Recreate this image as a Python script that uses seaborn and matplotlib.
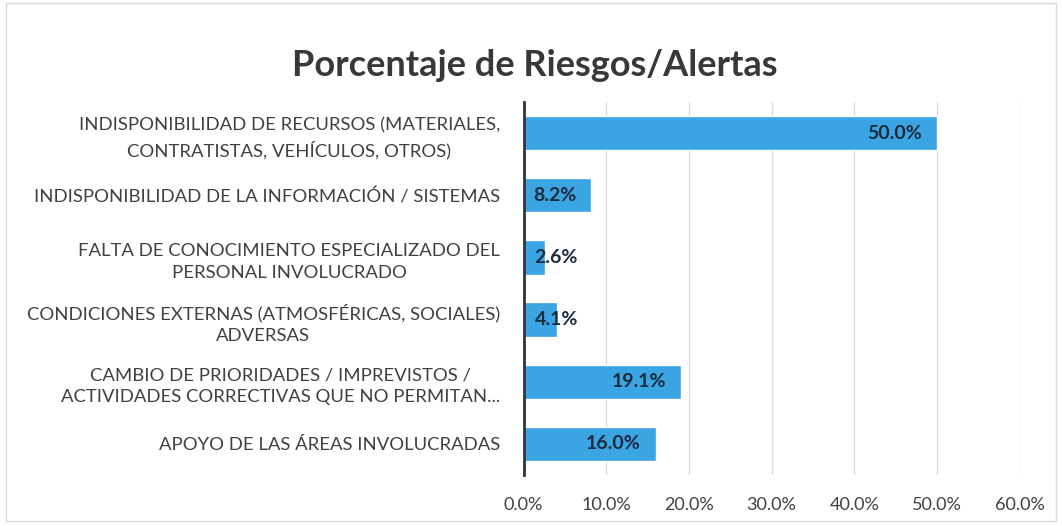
import matplotlib
matplotlib.use("Agg")
import matplotlib.pyplot as plt
import seaborn as sns
import pandas as pd
from matplotlib.ticker import FuncFormatter
from matplotlib.patches import Rectangle

categories = [
    "INDISPONIBILIDAD DE RECURSOS (MATERIALES,\nCONTRATISTAS, VEHÍCULOS, OTROS)",
    "INDISPONIBILIDAD DE LA INFORMACIÓN / SISTEMAS",
    "FALTA DE CONOCIMIENTO ESPECIALIZADO DEL\nPERSONAL INVOLUCRADO",
    "CONDICIONES EXTERNAS (ATMOSFÉRICAS, SOCIALES)\nADVERSAS",
    "CAMBIO DE PRIORIDADES / IMPREVISTOS /\nACTIVIDADES CORRECTIVAS QUE NO PERMITAN...",
    "APOYO DE LAS ÁREAS INVOLUCRADAS",
]
values = [50.0, 8.2, 2.6, 4.1, 19.1, 16.0]
x_ticks = [0, 10, 20, 30, 40, 50, 60]
title = "Porcentaje de Riesgos/Alertas"

sns.set_theme(style="white")
plt.rcParams['font.family'] = ['Lato', 'DejaVu Sans']

df = pd.DataFrame({"cat": categories, "val": values})

fig = plt.figure(figsize=(10.62, 5.26), dpi=100)
ax = fig.add_axes([0.493, 0.097, 0.467, 0.709])

sns.barplot(data=df, x="val", y="cat", orient="h", color="#3BA4E3",
            saturation=1, width=0.55, ax=ax)

ax.set_xlim(0, 60)
ax.set_xticks(x_ticks)
ax.xaxis.set_major_formatter(FuncFormatter(lambda v, p: f"{v:.1f}%"))
ax.grid(axis="x", color="#dcdcdc", linewidth=1)
ax.set_axisbelow(True)
for s in ["top", "right", "bottom"]:
    ax.spines[s].set_visible(False)
ax.spines["left"].set_color("#333333")
ax.spines["left"].set_linewidth(2)
ax.set_xlabel("")
ax.set_ylabel("")
ax.tick_params(axis="x", length=0, pad=16, labelsize=13, labelcolor="#404040")
ax.tick_params(axis="y", length=0, pad=17, labelsize=13.3, labelcolor="#404040")
for lab in ax.get_yticklabels():
    lab.set_multialignment("center")
    lab.set_linespacing(1.45)

# data labels (inside end)
for i, v in enumerate(values):
    if v >= 8:
        ax.annotate(f"{v:.1f}%", xy=(v, i), xytext=(-11, 0), textcoords="offset points",
                    ha="right", va="center", fontsize=14, fontweight="bold", color="#1b2b3c")
    else:
        ax.annotate(f"{v:.1f}%", xy=(0, i), xytext=(8, 0), textcoords="offset points",
                    ha="left", va="center", fontsize=14, fontweight="bold", color="#1b2b3c")

fig.text(0.504, 0.876, title, ha="center", va="center", fontsize=26,
         fontweight="bold", color="#383838")

fig.patches.append(Rectangle((0.006, 0.01), 0.988, 0.985, transform=fig.transFigure,
                             fill=False, edgecolor="#d9d9d9", linewidth=1))

fig.savefig("out.png", dpi=100)
